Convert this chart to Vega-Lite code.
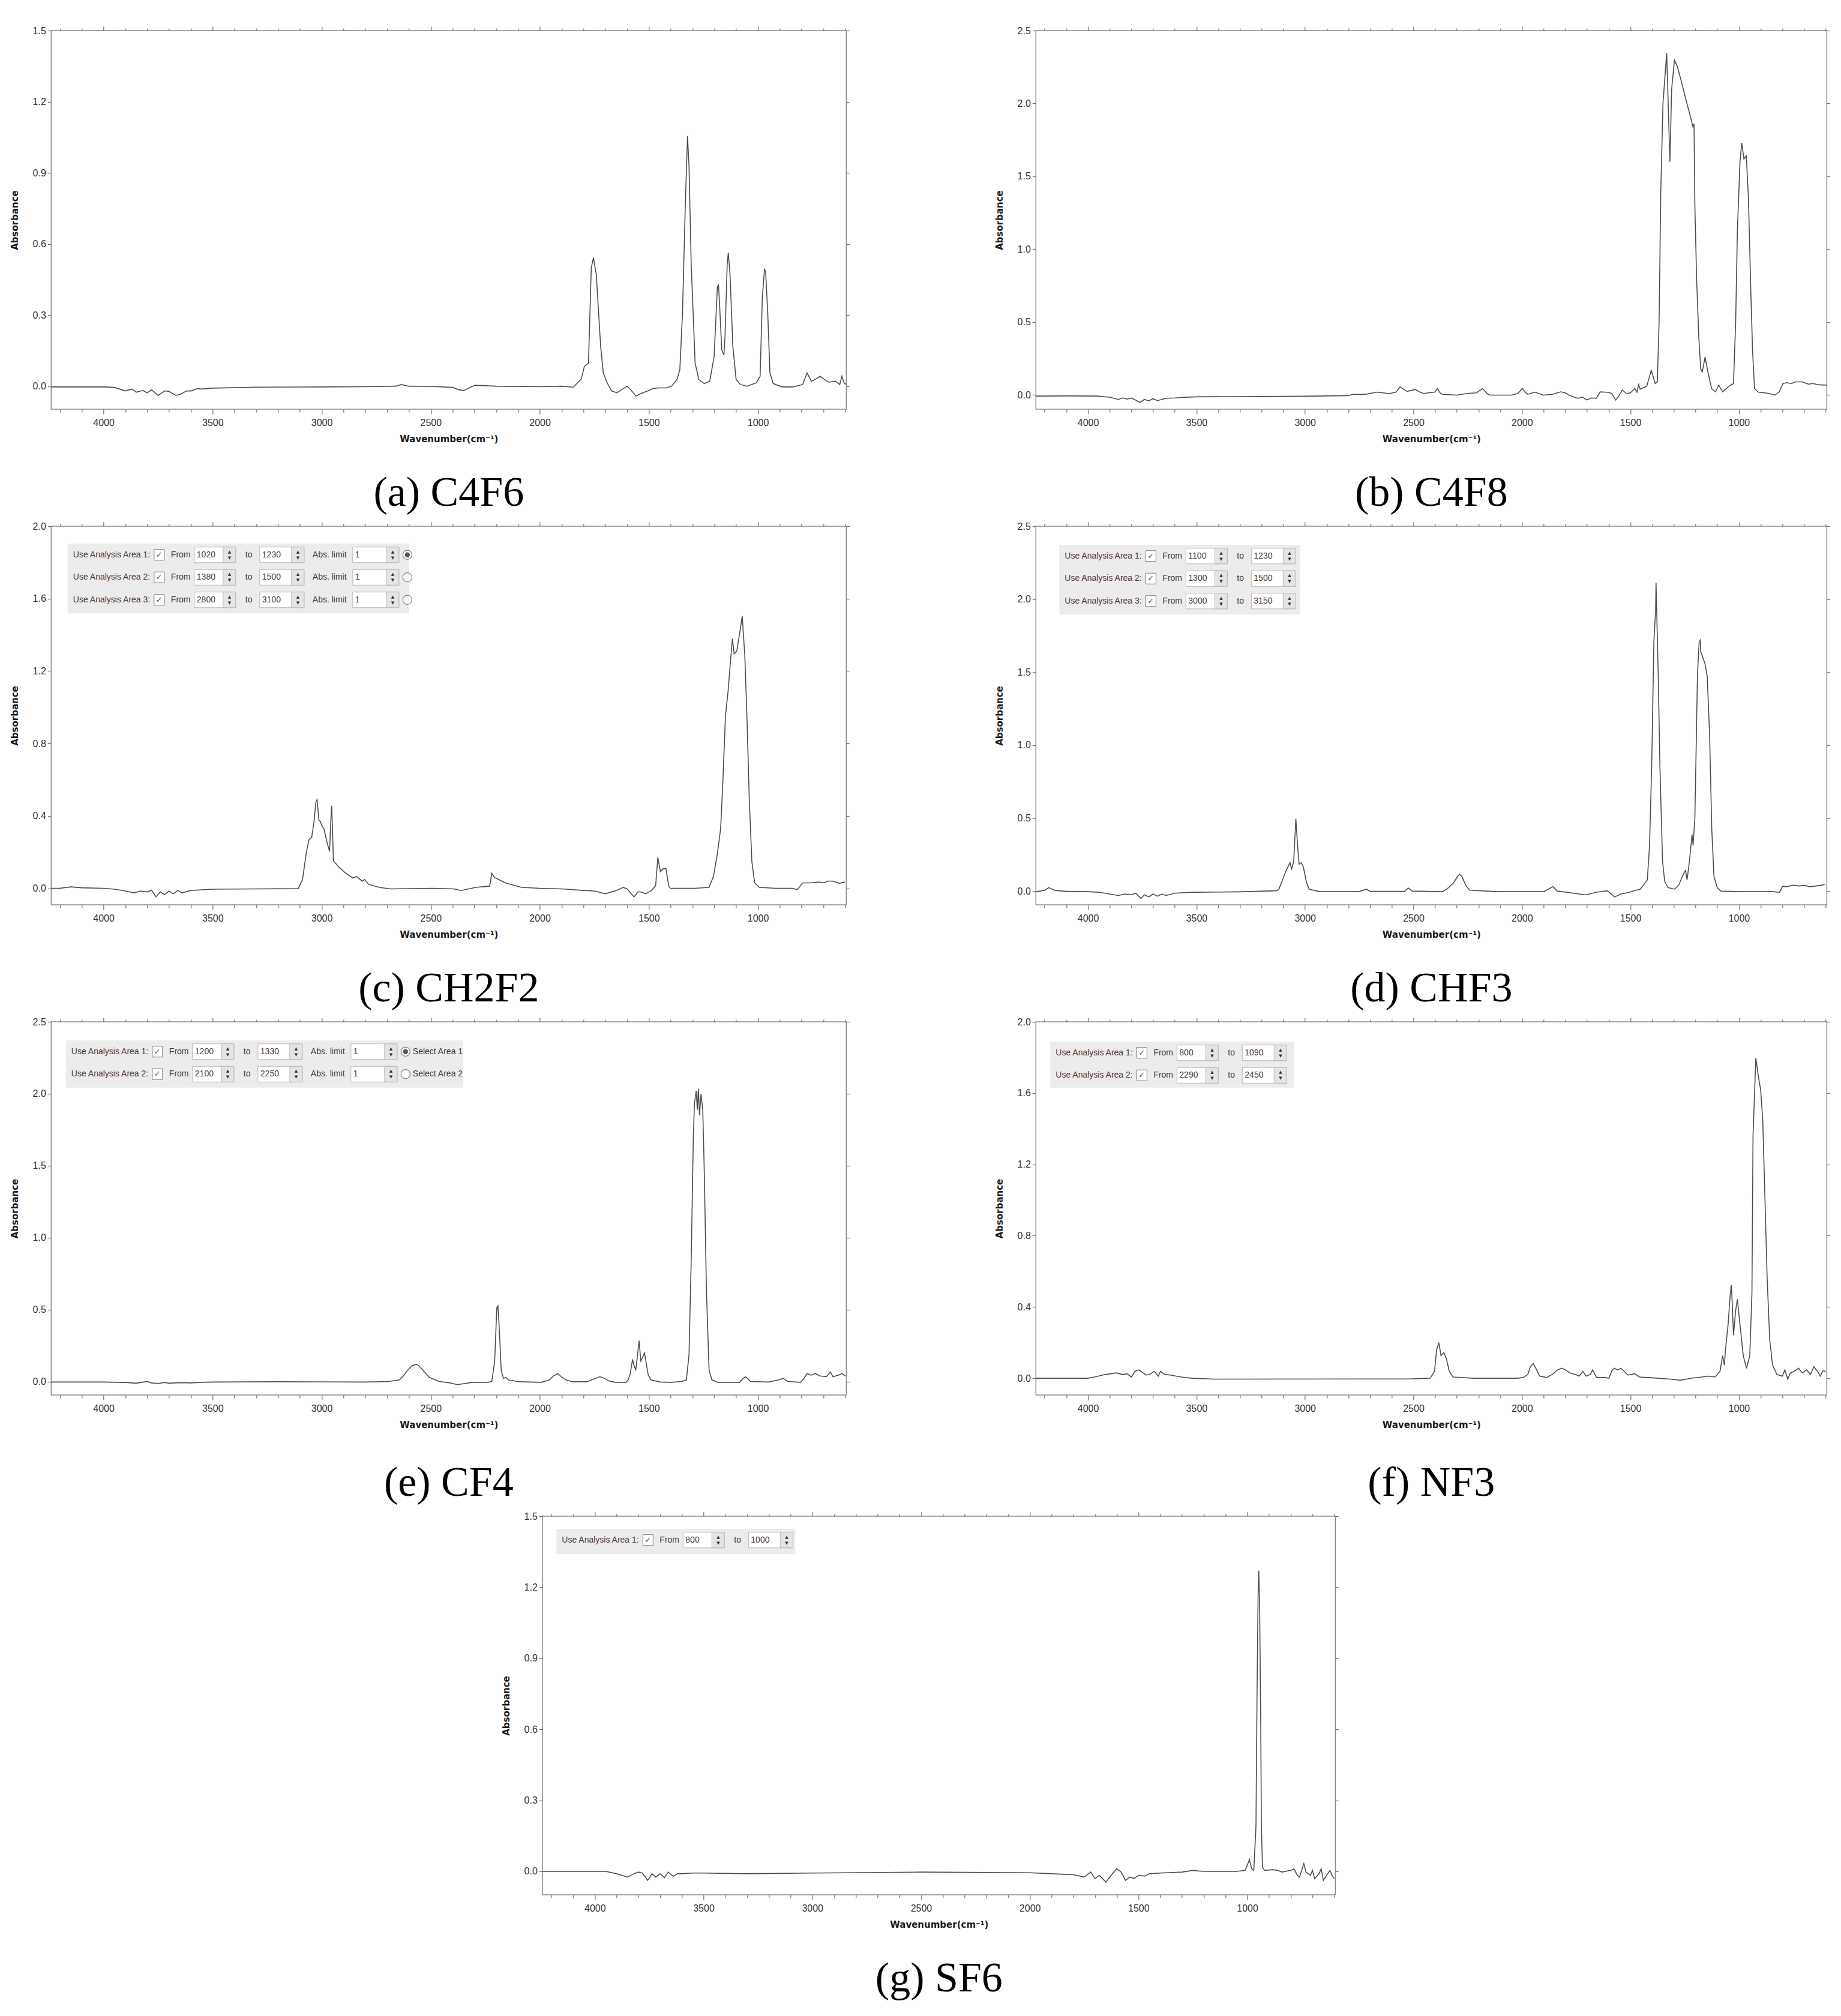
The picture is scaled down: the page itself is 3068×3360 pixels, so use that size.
{
"$schema": "https://vega.github.io/schema/vega-lite/v6.json",
"padding": {"left": 16, "top": 42, "right": 5, "bottom": 5},
"background": "white",
"datasets": {
"C4F6": [{"wn":4240,"abs":-0.003},{"wn":4100,"abs":-0.003},{"wn":4000,"abs":-0.003},{"wn":3950,"abs":-0.005},{"wn":3900,"abs":-0.02},{"wn":3870,"abs":-0.012},{"wn":3850,"abs":-0.025},{"wn":3820,"abs":-0.018},{"wn":3800,"abs":-0.028},{"wn":3780,"abs":-0.015},{"wn":3750,"abs":-0.039},{"wn":3720,"abs":-0.02},{"wn":3700,"abs":-0.022},{"wn":3670,"abs":-0.038},{"wn":3649,"abs":-0.035},{"wn":3620,"abs":-0.02},{"wn":3599,"abs":-0.02},{"wn":3570,"abs":-0.01},{"wn":3550,"abs":-0.012},{"wn":3499,"abs":-0.008},{"wn":3300,"abs":-0.004},{"wn":3000,"abs":-0.003},{"wn":2800,"abs":-0.002},{"wn":2660,"abs":0.0},{"wn":2635,"abs":0.007},{"wn":2600,"abs":0.0},{"wn":2500,"abs":-0.001},{"wn":2400,"abs":-0.005},{"wn":2372,"abs":-0.015},{"wn":2347,"abs":-0.018},{"wn":2320,"abs":-0.005},{"wn":2297,"abs":0.004},{"wn":2200,"abs":0.0},{"wn":2000,"abs":-0.002},{"wn":1900,"abs":0.0},{"wn":1847,"abs":-0.004},{"wn":1810,"abs":0.03},{"wn":1796,"abs":0.083},{"wn":1777,"abs":0.097},{"wn":1764,"abs":0.5},{"wn":1754,"abs":0.542},{"wn":1741,"abs":0.47},{"wn":1721,"abs":0.167},{"wn":1709,"abs":0.056},{"wn":1691,"abs":0.014},{"wn":1671,"abs":-0.02},{"wn":1646,"abs":-0.028},{"wn":1620,"abs":-0.012},{"wn":1601,"abs":0.0},{"wn":1584,"abs":-0.014},{"wn":1559,"abs":-0.042},{"wn":1546,"abs":-0.035},{"wn":1520,"abs":-0.025},{"wn":1504,"abs":-0.02},{"wn":1484,"abs":-0.011},{"wn":1458,"abs":-0.007},{"wn":1421,"abs":-0.007},{"wn":1396,"abs":0.0},{"wn":1371,"abs":0.028},{"wn":1358,"abs":0.07},{"wn":1346,"abs":0.306},{"wn":1333,"abs":0.764},{"wn":1323,"abs":1.056},{"wn":1316,"abs":0.93},{"wn":1306,"abs":0.514},{"wn":1288,"abs":0.097},{"wn":1271,"abs":0.028},{"wn":1246,"abs":0.011},{"wn":1221,"abs":0.021},{"wn":1201,"abs":0.125},{"wn":1186,"abs":0.417},{"wn":1181,"abs":0.43},{"wn":1176,"abs":0.347},{"wn":1166,"abs":0.153},{"wn":1156,"abs":0.132},{"wn":1151,"abs":0.208},{"wn":1141,"abs":0.514},{"wn":1136,"abs":0.5625},{"wn":1128,"abs":0.472},{"wn":1115,"abs":0.167},{"wn":1100,"abs":0.028},{"wn":1080,"abs":0.007},{"wn":1050,"abs":0.0},{"wn":1008,"abs":0.014},{"wn":990,"abs":0.042},{"wn":980,"abs":0.375},{"wn":970,"abs":0.493},{"wn":965,"abs":0.486},{"wn":955,"abs":0.306},{"wn":945,"abs":0.056},{"wn":930,"abs":0.011},{"wn":890,"abs":-0.003},{"wn":840,"abs":-0.003},{"wn":795,"abs":0.007},{"wn":775,"abs":0.056},{"wn":755,"abs":0.021},{"wn":735,"abs":0.03},{"wn":715,"abs":0.042},{"wn":695,"abs":0.028},{"wn":675,"abs":0.017},{"wn":645,"abs":0.021},{"wn":625,"abs":0.007},{"wn":615,"abs":0.042},{"wn":605,"abs":0.014},{"wn":595,"abs":0.007}],
"C4F8": [{"wn":4240,"abs":-0.007},{"wn":4100,"abs":-0.006},{"wn":3960,"abs":-0.007},{"wn":3900,"abs":-0.015},{"wn":3860,"abs":-0.03},{"wn":3840,"abs":-0.02},{"wn":3820,"abs":-0.028},{"wn":3800,"abs":-0.02},{"wn":3760,"abs":-0.05},{"wn":3740,"abs":-0.03},{"wn":3720,"abs":-0.04},{"wn":3700,"abs":-0.025},{"wn":3680,"abs":-0.038},{"wn":3660,"abs":-0.03},{"wn":3640,"abs":-0.022},{"wn":3600,"abs":-0.02},{"wn":3550,"abs":-0.015},{"wn":3500,"abs":-0.012},{"wn":3200,"abs":-0.01},{"wn":3000,"abs":-0.008},{"wn":2800,"abs":-0.004},{"wn":2781,"abs":0.005},{"wn":2720,"abs":0.005},{"wn":2668,"abs":0.02},{"wn":2640,"abs":0.015},{"wn":2612,"abs":0.01},{"wn":2580,"abs":0.02},{"wn":2562,"abs":0.056},{"wn":2540,"abs":0.035},{"wn":2529,"abs":0.025},{"wn":2491,"abs":0.038},{"wn":2470,"abs":0.02},{"wn":2453,"abs":0.011},{"wn":2402,"abs":0.02},{"wn":2390,"abs":0.045},{"wn":2375,"abs":0.01},{"wn":2364,"abs":0.005},{"wn":2301,"abs":0.0},{"wn":2251,"abs":0.011},{"wn":2210,"abs":0.015},{"wn":2182,"abs":0.045},{"wn":2160,"abs":0.01},{"wn":2149,"abs":0.0},{"wn":2048,"abs":0.0},{"wn":2020,"abs":0.01},{"wn":1998,"abs":0.045},{"wn":1985,"abs":0.02},{"wn":1973,"abs":0.005},{"wn":1940,"abs":0.02},{"wn":1902,"abs":0.0},{"wn":1860,"abs":0.005},{"wn":1821,"abs":0.022},{"wn":1800,"abs":0.015},{"wn":1783,"abs":0.0},{"wn":1745,"abs":-0.022},{"wn":1720,"abs":-0.015},{"wn":1702,"abs":-0.034},{"wn":1680,"abs":-0.02},{"wn":1657,"abs":-0.022},{"wn":1639,"abs":0.022},{"wn":1620,"abs":0.02},{"wn":1601,"abs":0.018},{"wn":1585,"abs":0.01},{"wn":1568,"abs":-0.034},{"wn":1555,"abs":-0.01},{"wn":1538,"abs":0.034},{"wn":1518,"abs":0.011},{"wn":1500,"abs":0.015},{"wn":1480,"abs":0.045},{"wn":1470,"abs":0.02},{"wn":1462,"abs":0.072},{"wn":1455,"abs":0.04},{"wn":1440,"abs":0.05},{"wn":1425,"abs":0.06},{"wn":1404,"abs":0.169},{"wn":1394,"abs":0.12},{"wn":1386,"abs":0.079},{"wn":1376,"abs":0.09},{"wn":1368,"abs":0.5},{"wn":1360,"abs":1.4},{"wn":1350,"abs":2.0},{"wn":1340,"abs":2.2},{"wn":1333,"abs":2.347},{"wn":1326,"abs":2.0},{"wn":1318,"abs":1.6},{"wn":1310,"abs":2.1},{"wn":1297,"abs":2.297},{"wn":1285,"abs":2.26},{"wn":1265,"abs":2.15},{"wn":1245,"abs":2.03},{"wn":1225,"abs":1.92},{"wn":1212,"abs":1.84},{"wn":1207,"abs":1.86},{"wn":1203,"abs":1.3},{"wn":1195,"abs":0.8},{"wn":1185,"abs":0.4},{"wn":1176,"abs":0.18},{"wn":1169,"abs":0.158},{"wn":1156,"abs":0.26},{"wn":1143,"abs":0.158},{"wn":1126,"abs":0.045},{"wn":1108,"abs":0.022},{"wn":1093,"abs":0.068},{"wn":1075,"abs":0.022},{"wn":1050,"abs":0.056},{"wn":1025,"abs":0.079},{"wn":1015,"abs":0.5},{"wn":1007,"abs":1.13},{"wn":995,"abs":1.6},{"wn":987,"abs":1.73},{"wn":977,"abs":1.62},{"wn":966,"abs":1.64},{"wn":956,"abs":1.35},{"wn":945,"abs":0.7},{"wn":937,"abs":0.3},{"wn":928,"abs":0.045},{"wn":911,"abs":0.02},{"wn":860,"abs":0.011},{"wn":835,"abs":0.0},{"wn":815,"abs":0.02},{"wn":797,"abs":0.079},{"wn":780,"abs":0.085},{"wn":759,"abs":0.079},{"wn":740,"abs":0.09},{"wn":709,"abs":0.09},{"wn":680,"abs":0.075},{"wn":658,"abs":0.079},{"wn":630,"abs":0.07},{"wn":595,"abs":0.068}],
"CH2F2": [{"wn":4240,"abs":0.0},{"wn":4200,"abs":0.0},{"wn":4150,"abs":0.008},{"wn":4100,"abs":0.003},{"wn":4000,"abs":0.0},{"wn":3950,"abs":-0.005},{"wn":3900,"abs":-0.015},{"wn":3860,"abs":-0.025},{"wn":3830,"abs":-0.015},{"wn":3800,"abs":-0.02},{"wn":3780,"abs":-0.01},{"wn":3760,"abs":-0.047},{"wn":3740,"abs":-0.02},{"wn":3720,"abs":-0.035},{"wn":3700,"abs":-0.015},{"wn":3680,"abs":-0.03},{"wn":3660,"abs":-0.012},{"wn":3640,"abs":-0.025},{"wn":3600,"abs":-0.012},{"wn":3550,"abs":-0.008},{"wn":3500,"abs":-0.005},{"wn":3300,"abs":-0.003},{"wn":3108,"abs":-0.002},{"wn":3088,"abs":0.048},{"wn":3070,"abs":0.2},{"wn":3058,"abs":0.27},{"wn":3046,"abs":0.28},{"wn":3036,"abs":0.36},{"wn":3026,"abs":0.48},{"wn":3021,"abs":0.49},{"wn":3013,"abs":0.378},{"wn":3006,"abs":0.369},{"wn":3001,"abs":0.35},{"wn":2989,"abs":0.326},{"wn":2976,"abs":0.256},{"wn":2964,"abs":0.204},{"wn":2956,"abs":0.43},{"wn":2954,"abs":0.455},{"wn":2946,"abs":0.152},{"wn":2934,"abs":0.135},{"wn":2922,"abs":0.118},{"wn":2889,"abs":0.083},{"wn":2857,"abs":0.057},{"wn":2840,"abs":0.065},{"wn":2815,"abs":0.04},{"wn":2803,"abs":0.048},{"wn":2785,"abs":0.022},{"wn":2736,"abs":0.005},{"wn":2684,"abs":-0.003},{"wn":2493,"abs":0.0},{"wn":2394,"abs":-0.003},{"wn":2361,"abs":-0.012},{"wn":2294,"abs":0.005},{"wn":2230,"abs":0.012},{"wn":2220,"abs":0.083},{"wn":2208,"abs":0.06},{"wn":2188,"abs":0.048},{"wn":2158,"abs":0.03},{"wn":2084,"abs":0.005},{"wn":2000,"abs":0.0},{"wn":1898,"abs":-0.003},{"wn":1799,"abs":-0.012},{"wn":1750,"abs":-0.015},{"wn":1700,"abs":-0.03},{"wn":1650,"abs":-0.012},{"wn":1618,"abs":0.005},{"wn":1600,"abs":-0.003},{"wn":1568,"abs":-0.047},{"wn":1550,"abs":-0.02},{"wn":1538,"abs":-0.02},{"wn":1514,"abs":-0.03},{"wn":1489,"abs":-0.012},{"wn":1469,"abs":0.014},{"wn":1459,"abs":0.17},{"wn":1447,"abs":0.092},{"wn":1434,"abs":0.109},{"wn":1422,"abs":0.109},{"wn":1409,"abs":0.014},{"wn":1402,"abs":0.0},{"wn":1290,"abs":0.0},{"wn":1224,"abs":0.005},{"wn":1204,"abs":0.066},{"wn":1186,"abs":0.19},{"wn":1171,"abs":0.33},{"wn":1161,"abs":0.585},{"wn":1149,"abs":0.95},{"wn":1137,"abs":1.087},{"wn":1127,"abs":1.24},{"wn":1117,"abs":1.378},{"wn":1109,"abs":1.295},{"wn":1097,"abs":1.31},{"wn":1085,"abs":1.4},{"wn":1072,"abs":1.503},{"wn":1060,"abs":1.28},{"wn":1050,"abs":0.93},{"wn":1040,"abs":0.5},{"wn":1028,"abs":0.15},{"wn":1015,"abs":0.03},{"wn":993,"abs":0.005},{"wn":919,"abs":0.0},{"wn":844,"abs":0.0},{"wn":819,"abs":-0.007},{"wn":795,"abs":0.03},{"wn":760,"abs":0.03},{"wn":720,"abs":0.035},{"wn":696,"abs":0.03},{"wn":680,"abs":0.04},{"wn":658,"abs":0.04},{"wn":626,"abs":0.028},{"wn":601,"abs":0.035}],
"CHF3": [{"wn":4240,"abs":-0.004},{"wn":4200,"abs":0.005},{"wn":4181,"abs":0.024},{"wn":4151,"abs":0.004},{"wn":4100,"abs":-0.002},{"wn":4000,"abs":-0.004},{"wn":3950,"abs":-0.008},{"wn":3900,"abs":-0.02},{"wn":3860,"abs":-0.03},{"wn":3830,"abs":-0.02},{"wn":3800,"abs":-0.025},{"wn":3780,"abs":-0.015},{"wn":3756,"abs":-0.05},{"wn":3740,"abs":-0.025},{"wn":3720,"abs":-0.04},{"wn":3700,"abs":-0.02},{"wn":3680,"abs":-0.035},{"wn":3660,"abs":-0.02},{"wn":3640,"abs":-0.03},{"wn":3600,"abs":-0.015},{"wn":3550,"abs":-0.01},{"wn":3500,"abs":-0.008},{"wn":3300,"abs":-0.005},{"wn":3132,"abs":0.002},{"wn":3120,"abs":0.013},{"wn":3087,"abs":0.14},{"wn":3069,"abs":0.195},{"wn":3062,"abs":0.152},{"wn":3052,"abs":0.2},{"wn":3042,"abs":0.495},{"wn":3034,"abs":0.313},{"wn":3027,"abs":0.184},{"wn":3017,"abs":0.195},{"wn":3007,"abs":0.163},{"wn":2994,"abs":0.066},{"wn":2981,"abs":0.013},{"wn":2931,"abs":-0.004},{"wn":2750,"abs":-0.004},{"wn":2717,"abs":0.013},{"wn":2700,"abs":-0.002},{"wn":2540,"abs":-0.002},{"wn":2524,"abs":0.021},{"wn":2505,"abs":0.0},{"wn":2365,"abs":-0.004},{"wn":2338,"abs":0.024},{"wn":2315,"abs":0.056},{"wn":2297,"abs":0.1},{"wn":2287,"abs":0.116},{"wn":2277,"abs":0.1},{"wn":2257,"abs":0.034},{"wn":2240,"abs":0.006},{"wn":2106,"abs":-0.004},{"wn":1900,"abs":-0.004},{"wn":1857,"abs":0.03},{"wn":1837,"abs":0.0},{"wn":1760,"abs":-0.015},{"wn":1706,"abs":-0.026},{"wn":1656,"abs":-0.008},{"wn":1606,"abs":0.002},{"wn":1573,"abs":-0.04},{"wn":1543,"abs":-0.02},{"wn":1503,"abs":-0.008},{"wn":1485,"abs":0.002},{"wn":1455,"abs":0.013},{"wn":1422,"abs":0.077},{"wn":1412,"abs":0.313},{"wn":1402,"abs":0.85},{"wn":1392,"abs":1.707},{"wn":1384,"abs":1.92},{"wn":1382,"abs":2.114},{"wn":1379,"abs":1.92},{"wn":1372,"abs":1.49},{"wn":1364,"abs":0.85},{"wn":1352,"abs":0.206},{"wn":1342,"abs":0.066},{"wn":1327,"abs":0.024},{"wn":1296,"abs":0.013},{"wn":1276,"abs":0.045},{"wn":1261,"abs":0.1},{"wn":1251,"abs":0.13},{"wn":1246,"abs":0.141},{"wn":1239,"abs":0.077},{"wn":1228,"abs":0.206},{"wn":1216,"abs":0.388},{"wn":1211,"abs":0.313},{"wn":1203,"abs":0.506},{"wn":1196,"abs":1.063},{"wn":1191,"abs":1.49},{"wn":1183,"abs":1.707},{"wn":1178,"abs":1.72},{"wn":1176,"abs":1.64},{"wn":1171,"abs":1.62},{"wn":1161,"abs":1.578},{"wn":1156,"abs":1.556},{"wn":1146,"abs":1.47},{"wn":1135,"abs":1.063},{"wn":1125,"abs":0.42},{"wn":1115,"abs":0.1},{"wn":1100,"abs":0.024},{"wn":1083,"abs":0.0},{"wn":1000,"abs":-0.004},{"wn":844,"abs":-0.004},{"wn":813,"abs":-0.008},{"wn":798,"abs":0.034},{"wn":781,"abs":0.03},{"wn":750,"abs":0.04},{"wn":720,"abs":0.035},{"wn":700,"abs":0.04},{"wn":675,"abs":0.03},{"wn":650,"abs":0.034},{"wn":620,"abs":0.04},{"wn":605,"abs":0.045}],
"CF4": [{"wn":4240,"abs":-0.002},{"wn":4000,"abs":-0.002},{"wn":3900,"abs":-0.005},{"wn":3850,"abs":-0.01},{"wn":3800,"abs":0.002},{"wn":3780,"abs":-0.008},{"wn":3750,"abs":-0.012},{"wn":3720,"abs":-0.005},{"wn":3700,"abs":-0.01},{"wn":3650,"abs":-0.006},{"wn":3600,"abs":-0.008},{"wn":3550,"abs":-0.004},{"wn":3500,"abs":-0.002},{"wn":3200,"abs":0.0},{"wn":2800,"abs":-0.002},{"wn":2693,"abs":0.002},{"wn":2643,"abs":0.013},{"wn":2623,"abs":0.046},{"wn":2606,"abs":0.08},{"wn":2586,"abs":0.11},{"wn":2566,"abs":0.122},{"wn":2553,"abs":0.11},{"wn":2536,"abs":0.08},{"wn":2506,"abs":0.03},{"wn":2461,"abs":0.002},{"wn":2411,"abs":-0.008},{"wn":2379,"abs":-0.02},{"wn":2307,"abs":-0.004},{"wn":2237,"abs":-0.004},{"wn":2220,"abs":0.002},{"wn":2207,"abs":0.144},{"wn":2197,"abs":0.516},{"wn":2192,"abs":0.527},{"wn":2187,"abs":0.406},{"wn":2177,"abs":0.08},{"wn":2167,"abs":0.024},{"wn":2155,"abs":0.03},{"wn":2145,"abs":0.013},{"wn":2093,"abs":0.0},{"wn":1993,"abs":-0.004},{"wn":1956,"abs":0.013},{"wn":1938,"abs":0.04},{"wn":1918,"abs":0.057},{"wn":1901,"abs":0.035},{"wn":1881,"abs":0.013},{"wn":1851,"abs":0.0},{"wn":1784,"abs":0.0},{"wn":1744,"abs":0.024},{"wn":1724,"abs":0.035},{"wn":1704,"abs":0.024},{"wn":1684,"abs":0.006},{"wn":1654,"abs":-0.004},{"wn":1605,"abs":-0.004},{"wn":1595,"abs":0.013},{"wn":1585,"abs":0.057},{"wn":1575,"abs":0.155},{"wn":1570,"abs":0.122},{"wn":1560,"abs":0.08},{"wn":1552,"abs":0.188},{"wn":1545,"abs":0.286},{"wn":1537,"abs":0.144},{"wn":1530,"abs":0.166},{"wn":1520,"abs":0.2},{"wn":1510,"abs":0.11},{"wn":1503,"abs":0.046},{"wn":1490,"abs":0.013},{"wn":1448,"abs":-0.002},{"wn":1398,"abs":-0.004},{"wn":1348,"abs":0.002},{"wn":1328,"abs":0.013},{"wn":1316,"abs":0.188},{"wn":1306,"abs":0.843},{"wn":1296,"abs":1.717},{"wn":1291,"abs":1.936},{"wn":1283,"abs":2.02},{"wn":1278,"abs":1.89},{"wn":1273,"abs":2.035},{"wn":1268,"abs":1.85},{"wn":1261,"abs":2.0},{"wn":1253,"abs":1.89},{"wn":1246,"abs":1.455},{"wn":1236,"abs":0.625},{"wn":1224,"abs":0.08},{"wn":1211,"abs":0.013},{"wn":1184,"abs":-0.004},{"wn":1084,"abs":-0.004},{"wn":1067,"abs":0.024},{"wn":1057,"abs":0.035},{"wn":1034,"abs":0.002},{"wn":950,"abs":-0.002},{"wn":905,"abs":0.013},{"wn":885,"abs":0.024},{"wn":863,"abs":0.002},{"wn":805,"abs":-0.004},{"wn":788,"abs":0.024},{"wn":775,"abs":0.057},{"wn":756,"abs":0.046},{"wn":736,"abs":0.057},{"wn":716,"abs":0.04},{"wn":686,"abs":0.035},{"wn":668,"abs":0.068},{"wn":656,"abs":0.035},{"wn":631,"abs":0.046},{"wn":614,"abs":0.057},{"wn":599,"abs":0.04}],
"NF3": [{"wn":4240,"abs":0.0},{"wn":4000,"abs":0.0},{"wn":3970,"abs":0.007},{"wn":3920,"abs":0.021},{"wn":3870,"abs":0.03},{"wn":3840,"abs":0.021},{"wn":3820,"abs":0.025},{"wn":3800,"abs":0.007},{"wn":3783,"abs":0.039},{"wn":3765,"abs":0.047},{"wn":3733,"abs":0.018},{"wn":3715,"abs":0.021},{"wn":3695,"abs":0.039},{"wn":3676,"abs":0.012},{"wn":3666,"abs":0.039},{"wn":3646,"abs":0.021},{"wn":3621,"abs":0.018},{"wn":3571,"abs":0.007},{"wn":3521,"abs":0.0},{"wn":3421,"abs":-0.005},{"wn":2722,"abs":-0.004},{"wn":2522,"abs":-0.004},{"wn":2423,"abs":0.0},{"wn":2403,"abs":0.039},{"wn":2393,"abs":0.162},{"wn":2383,"abs":0.2},{"wn":2373,"abs":0.127},{"wn":2360,"abs":0.144},{"wn":2348,"abs":0.109},{"wn":2335,"abs":0.039},{"wn":2318,"abs":0.007},{"wn":2223,"abs":0.0},{"wn":2023,"abs":0.0},{"wn":1993,"abs":0.004},{"wn":1973,"abs":0.021},{"wn":1961,"abs":0.065},{"wn":1948,"abs":0.083},{"wn":1936,"abs":0.056},{"wn":1918,"abs":0.012},{"wn":1886,"abs":0.004},{"wn":1856,"abs":0.025},{"wn":1836,"abs":0.047},{"wn":1816,"abs":0.056},{"wn":1799,"abs":0.047},{"wn":1779,"abs":0.03},{"wn":1754,"abs":0.021},{"wn":1736,"abs":0.012},{"wn":1719,"abs":0.039},{"wn":1704,"abs":0.012},{"wn":1686,"abs":0.021},{"wn":1674,"abs":0.047},{"wn":1656,"abs":0.004},{"wn":1619,"abs":0.004},{"wn":1599,"abs":0.0},{"wn":1584,"abs":0.047},{"wn":1574,"abs":0.056},{"wn":1559,"abs":0.047},{"wn":1544,"abs":0.056},{"wn":1529,"abs":0.039},{"wn":1512,"abs":0.018},{"wn":1479,"abs":0.025},{"wn":1459,"abs":0.007},{"wn":1419,"abs":0.004},{"wn":1369,"abs":0.0},{"wn":1319,"abs":-0.005},{"wn":1269,"abs":-0.011},{"wn":1219,"abs":0.0},{"wn":1170,"abs":0.007},{"wn":1140,"abs":0.012},{"wn":1110,"abs":0.007},{"wn":1087,"abs":0.039},{"wn":1075,"abs":0.127},{"wn":1067,"abs":0.074},{"wn":1062,"abs":0.162},{"wn":1050,"abs":0.3},{"wn":1040,"abs":0.47},{"wn":1035,"abs":0.522},{"wn":1030,"abs":0.4},{"wn":1025,"abs":0.241},{"wn":1015,"abs":0.38},{"wn":1007,"abs":0.443},{"wn":995,"abs":0.3},{"wn":980,"abs":0.127},{"wn":965,"abs":0.056},{"wn":950,"abs":0.127},{"wn":940,"abs":0.478},{"wn":935,"abs":1.358},{"wn":922,"abs":1.798},{"wn":910,"abs":1.69},{"wn":900,"abs":1.62},{"wn":890,"abs":1.446},{"wn":880,"abs":1.006},{"wn":870,"abs":0.566},{"wn":858,"abs":0.215},{"wn":845,"abs":0.074},{"wn":825,"abs":0.021},{"wn":800,"abs":0.012},{"wn":788,"abs":0.047},{"wn":775,"abs":-0.005},{"wn":763,"abs":0.03},{"wn":745,"abs":0.039},{"wn":725,"abs":0.056},{"wn":708,"abs":0.03},{"wn":688,"abs":0.047},{"wn":670,"abs":0.021},{"wn":655,"abs":0.065},{"wn":638,"abs":0.039},{"wn":625,"abs":0.012},{"wn":613,"abs":0.042},{"wn":600,"abs":0.039}],
"SF6": [{"wn":4240,"abs":0.0},{"wn":4100,"abs":0.0},{"wn":3950,"abs":0.0},{"wn":3900,"abs":-0.01},{"wn":3850,"abs":-0.024},{"wn":3820,"abs":-0.01},{"wn":3800,"abs":-0.003},{"wn":3782,"abs":-0.007},{"wn":3757,"abs":-0.038},{"wn":3737,"abs":-0.01},{"wn":3720,"abs":-0.024},{"wn":3700,"abs":-0.01},{"wn":3680,"abs":-0.027},{"wn":3662,"abs":-0.003},{"wn":3640,"abs":-0.021},{"wn":3620,"abs":-0.01},{"wn":3600,"abs":-0.01},{"wn":3550,"abs":-0.007},{"wn":3500,"abs":-0.007},{"wn":3300,"abs":-0.01},{"wn":3000,"abs":-0.007},{"wn":2500,"abs":-0.003},{"wn":2000,"abs":-0.006},{"wn":1900,"abs":-0.01},{"wn":1800,"abs":-0.014},{"wn":1750,"abs":-0.024},{"wn":1720,"abs":-0.003},{"wn":1700,"abs":-0.031},{"wn":1680,"abs":-0.017},{"wn":1650,"abs":-0.045},{"wn":1620,"abs":-0.01},{"wn":1600,"abs":0.011},{"wn":1580,"abs":-0.003},{"wn":1560,"abs":-0.038},{"wn":1540,"abs":-0.024},{"wn":1520,"abs":-0.03},{"wn":1500,"abs":-0.017},{"wn":1470,"abs":-0.02},{"wn":1450,"abs":-0.01},{"wn":1400,"abs":-0.007},{"wn":1300,"abs":-0.003},{"wn":1250,"abs":0.004},{"wn":1200,"abs":0.0},{"wn":1050,"abs":0.0},{"wn":1010,"abs":0.004},{"wn":1000,"abs":0.026},{"wn":990,"abs":0.05},{"wn":980,"abs":0.011},{"wn":970,"abs":0.004},{"wn":960,"abs":0.189},{"wn":955,"abs":0.758},{"wn":950,"abs":1.18},{"wn":947,"abs":1.27},{"wn":943,"abs":1.11},{"wn":938,"abs":0.616},{"wn":935,"abs":0.189},{"wn":930,"abs":0.018},{"wn":920,"abs":0.004},{"wn":880,"abs":0.007},{"wn":860,"abs":0.004},{"wn":840,"abs":-0.003},{"wn":800,"abs":0.004},{"wn":785,"abs":0.011},{"wn":770,"abs":-0.017},{"wn":760,"abs":-0.024},{"wn":740,"abs":0.033},{"wn":730,"abs":-0.003},{"wn":710,"abs":-0.017},{"wn":700,"abs":0.004},{"wn":690,"abs":-0.031},{"wn":670,"abs":-0.01},{"wn":660,"abs":0.011},{"wn":650,"abs":-0.038},{"wn":640,"abs":-0.024},{"wn":620,"abs":0.004},{"wn":610,"abs":-0.017},{"wn":600,"abs":-0.031}],
"ui": [
{"p":"c","r":1,"lab":"Use Analysis Area 1:","f":"1020","t":"1230","lim":"1","sel":true},
{"p":"c","r":2,"lab":"Use Analysis Area 2:","f":"1380","t":"1500","lim":"1","sel":false},
{"p":"c","r":3,"lab":"Use Analysis Area 3:","f":"2800","t":"3100","lim":"1","sel":false},
{"p":"d","r":1,"lab":"Use Analysis Area 1:","f":"1100","t":"1230"},
{"p":"d","r":2,"lab":"Use Analysis Area 2:","f":"1300","t":"1500"},
{"p":"d","r":3,"lab":"Use Analysis Area 3:","f":"3000","t":"3150"},
{"p":"e","r":1,"lab":"Use Analysis Area 1:","f":"1200","t":"1330","lim":"1","sel":true,"sa":"Select Area 1"},
{"p":"e","r":2,"lab":"Use Analysis Area 2:","f":"2100","t":"2250","lim":"1","sel":false,"sa":"Select Area 2"},
{"p":"f","r":1,"lab":"Use Analysis Area 1:","f":"800","t":"1090"},
{"p":"f","r":2,"lab":"Use Analysis Area 2:","f":"2290","t":"2450"},
{"p":"g","r":1,"lab":"Use Analysis Area 1:","f":"800","t":"1000"}
]
},
"vconcat": [
{"hconcat": [
{"title": {"text": "(a) C4F6", "orient": "bottom"}, "width": 1325, "height": 631,
 "layer": [
  {"data": {"name": "C4F6"}, "mark": {"type": "line", "stroke": "#4d4d4d", "strokeWidth": 1.6},
   "encoding": {
    "x": {"field": "wn", "type": "quantitative", "scale": {"domain": [595, 4240], "reverse": true, "nice": false, "zero": false},
      "axis": {"title": "Wavenumber(cm⁻¹)", "values": [600,700,800,900,1000,1100,1200,1300,1400,1500,1600,1700,1800,1900,2000,2100,2200,2300,2400,2500,2600,2700,2800,2900,3000,3100,3200,3300,3400,3500,3600,3700,3800,3900,4000,4100,4200], "format": "d", "labelExpr": "datum.value % 500 === 0 ? datum.label : ''", "labelOverlap": false, "tickSize": {"condition": {"test": "datum.value % 500 === 0", "value": 8}, "value": 5}}},
    "y": {"field": "abs", "type": "quantitative", "scale": {"domain": [-0.097, 1.5], "nice": false, "zero": false},
      "axis": {"title": "Absorbance", "values": [0, 0.3, 0.6, 0.9, 1.2, 1.5], "format": ".1f", "tickSize": 6}}}},
  {"data": {"name": "C4F6"}, "mark": {"type": "line", "strokeOpacity": 0},
   "encoding": {
    "x": {"field": "wn", "type": "quantitative", "axis": {"orient": "top", "title": null, "labels": false, "values": [600,700,800,900,1000,1100,1200,1300,1400,1500,1600,1700,1800,1900,2000,2100,2200,2300,2400,2500,2600,2700,2800,2900,3000,3100,3200,3300,3400,3500,3600,3700,3800,3900,4000,4100,4200], "tickSize": {"condition": {"test": "datum.value % 500 === 0", "value": 7}, "value": 4}}},
    "y": {"field": "abs", "type": "quantitative", "axis": {"orient": "right", "title": null, "labels": false, "values": [0, 0.3, 0.6, 0.9, 1.2, 1.5], "tickSize": 5}}}}
 ],
 "resolve": {"axis": {"x": "independent", "y": "independent"}}},
{"title": {"text": "(b) C4F8", "orient": "bottom"}, "width": 1318, "height": 631,
 "layer": [
  {"data": {"name": "C4F8"}, "mark": {"type": "line", "stroke": "#4d4d4d", "strokeWidth": 1.6},
   "encoding": {
    "x": {"field": "wn", "type": "quantitative", "scale": {"domain": [595, 4240], "reverse": true, "nice": false, "zero": false},
      "axis": {"title": "Wavenumber(cm⁻¹)", "values": [600,700,800,900,1000,1100,1200,1300,1400,1500,1600,1700,1800,1900,2000,2100,2200,2300,2400,2500,2600,2700,2800,2900,3000,3100,3200,3300,3400,3500,3600,3700,3800,3900,4000,4100,4200], "format": "d", "labelExpr": "datum.value % 500 === 0 ? datum.label : ''", "labelOverlap": false, "tickSize": {"condition": {"test": "datum.value % 500 === 0", "value": 8}, "value": 5}}},
    "y": {"field": "abs", "type": "quantitative", "scale": {"domain": [-0.097, 2.5], "nice": false, "zero": false},
      "axis": {"title": "Absorbance", "values": [0, 0.5, 1, 1.5, 2, 2.5], "format": ".1f", "tickSize": 6}}}},
  {"data": {"name": "C4F8"}, "mark": {"type": "line", "strokeOpacity": 0},
   "encoding": {
    "x": {"field": "wn", "type": "quantitative", "axis": {"orient": "top", "title": null, "labels": false, "values": [600,700,800,900,1000,1100,1200,1300,1400,1500,1600,1700,1800,1900,2000,2100,2200,2300,2400,2500,2600,2700,2800,2900,3000,3100,3200,3300,3400,3500,3600,3700,3800,3900,4000,4100,4200], "tickSize": {"condition": {"test": "datum.value % 500 === 0", "value": 7}, "value": 4}}},
    "y": {"field": "abs", "type": "quantitative", "axis": {"orient": "right", "title": null, "labels": false, "values": [0, 0.5, 1, 1.5, 2, 2.5], "tickSize": 5}}}}
 ],
 "resolve": {"axis": {"x": "independent", "y": "independent"}}}
], "spacing": 240},
{"hconcat": [
{"title": {"text": "(c) CH2F2", "orient": "bottom"}, "width": 1325, "height": 631,
 "layer": [
  {"layer": [
   {"data": {"name": "CH2F2"}, "mark": {"type": "line", "stroke": "#4d4d4d", "strokeWidth": 1.6},
    "encoding": {
     "x": {"field": "wn", "type": "quantitative", "scale": {"domain": [595, 4240], "reverse": true, "nice": false, "zero": false},
       "axis": {"title": "Wavenumber(cm⁻¹)", "values": [600,700,800,900,1000,1100,1200,1300,1400,1500,1600,1700,1800,1900,2000,2100,2200,2300,2400,2500,2600,2700,2800,2900,3000,3100,3200,3300,3400,3500,3600,3700,3800,3900,4000,4100,4200], "format": "d", "labelExpr": "datum.value % 500 === 0 ? datum.label : ''", "labelOverlap": false, "tickSize": {"condition": {"test": "datum.value % 500 === 0", "value": 8}, "value": 5}}},
     "y": {"field": "abs", "type": "quantitative", "scale": {"domain": [-0.091, 2.0], "nice": false, "zero": false},
       "axis": {"title": "Absorbance", "values": [0, 0.4, 0.8, 1.2, 1.6, 2.0], "format": ".1f", "tickSize": 6}}}},
   {"data": {"name": "CH2F2"}, "mark": {"type": "line", "strokeOpacity": 0},
    "encoding": {
     "x": {"field": "wn", "type": "quantitative", "axis": {"orient": "top", "title": null, "labels": false, "values": [600,700,800,900,1000,1100,1200,1300,1400,1500,1600,1700,1800,1900,2000,2100,2200,2300,2400,2500,2600,2700,2800,2900,3000,3100,3200,3300,3400,3500,3600,3700,3800,3900,4000,4100,4200], "tickSize": {"condition": {"test": "datum.value % 500 === 0", "value": 7}, "value": 4}}},
     "y": {"field": "abs", "type": "quantitative", "axis": {"orient": "right", "title": null, "labels": false, "values": [0, 0.4, 0.8, 1.2, 1.6, 2.0], "tickSize": 5}}}}
  ], "resolve": {"axis": {"x": "independent", "y": "independent"}}},
  {"data": {"name": "ui"}, "transform": [{"filter": "datum.p === 'c'"}],
   "layer": [
    {"transform": [{"filter": "datum.r === 1"}], "mark": {"type": "rect", "fill": "#ececec"},
     "encoding": {"x": {"datum": 0, "type": "quantitative", "scale": {"domain": [-27.5, 1297.5], "nice": false, "zero": false}, "axis": null}, "x2": {"datum": 569},
      "y": {"datum": 0.5, "type": "quantitative", "scale": {"domain": [-0.273, 16.553], "reverse": true, "nice": false, "zero": false}, "axis": null}, "y2": {"datum": 3.6}}},
    {"mark": {"type": "text", "align": "left", "baseline": "middle", "font": "Liberation Sans", "fontSize": 14, "fill": "#4b3b3b"},
     "encoding": {"x": {"datum": 9, "type": "quantitative", "axis": null}, "y": {"field": "r", "type": "quantitative", "axis": null}, "text": {"field": "lab"}}},
    {"mark": {"type": "rect", "fill": "#ffffff", "stroke": "#7b7b7b", "strokeWidth": 1, "yOffset": -9, "y2Offset": 9},
     "encoding": {"x": {"datum": 144, "type": "quantitative", "axis": null}, "x2": {"datum": 161}, "y": {"field": "r", "type": "quantitative", "axis": null}, "y2": {"field": "r"}}},
    {"mark": {"type": "text", "text": "✓", "align": "center", "baseline": "middle", "font": "DejaVu Sans", "fontSize": 13, "fill": "#555555"},
     "encoding": {"x": {"datum": 152.5, "type": "quantitative", "axis": null}, "y": {"field": "r", "type": "quantitative", "axis": null}}},
    {"mark": {"type": "text", "text": "From", "align": "left", "baseline": "middle", "font": "Liberation Sans", "fontSize": 14, "fill": "#3a3a3a"},
     "encoding": {"x": {"datum": 172, "type": "quantitative", "axis": null}, "y": {"field": "r", "type": "quantitative", "axis": null}}},
    {"mark": {"type": "rect", "fill": "#ffffff", "stroke": "#b9b9b9", "strokeWidth": 1, "yOffset": -13, "y2Offset": 13},
     "encoding": {"x": {"datum": 211, "type": "quantitative", "axis": null}, "x2": {"datum": 280}, "y": {"field": "r", "type": "quantitative", "axis": null}, "y2": {"field": "r"}}},
    {"mark": {"type": "rect", "fill": "#e4e4e4", "stroke": "#b9b9b9", "strokeWidth": 1, "yOffset": -13, "y2Offset": 13},
     "encoding": {"x": {"datum": 259, "type": "quantitative", "axis": null}, "x2": {"datum": 280}, "y": {"field": "r", "type": "quantitative", "axis": null}, "y2": {"field": "r"}}},
    {"mark": {"type": "text", "text": "▲", "align": "center", "baseline": "middle", "font": "DejaVu Sans", "fontSize": 7, "fill": "#333333", "yOffset": -5},
     "encoding": {"x": {"datum": 269.5, "type": "quantitative", "axis": null}, "y": {"field": "r", "type": "quantitative", "axis": null}}},
    {"mark": {"type": "text", "text": "▼", "align": "center", "baseline": "middle", "font": "DejaVu Sans", "fontSize": 7, "fill": "#333333", "yOffset": 5},
     "encoding": {"x": {"datum": 269.5, "type": "quantitative", "axis": null}, "y": {"field": "r", "type": "quantitative", "axis": null}}},
    {"mark": {"type": "text", "align": "left", "baseline": "middle", "font": "Liberation Sans", "fontSize": 14, "fill": "#4b3b3b"},
     "encoding": {"x": {"datum": 215, "type": "quantitative", "axis": null}, "y": {"field": "r", "type": "quantitative", "axis": null}, "text": {"field": "f"}}},
    {"mark": {"type": "text", "text": "to", "align": "left", "baseline": "middle", "font": "Liberation Sans", "fontSize": 14, "fill": "#3a3a3a"},
     "encoding": {"x": {"datum": 296, "type": "quantitative", "axis": null}, "y": {"field": "r", "type": "quantitative", "axis": null}}},
    {"mark": {"type": "rect", "fill": "#ffffff", "stroke": "#b9b9b9", "strokeWidth": 1, "yOffset": -13, "y2Offset": 13},
     "encoding": {"x": {"datum": 320, "type": "quantitative", "axis": null}, "x2": {"datum": 394}, "y": {"field": "r", "type": "quantitative", "axis": null}, "y2": {"field": "r"}}},
    {"mark": {"type": "rect", "fill": "#e4e4e4", "stroke": "#b9b9b9", "strokeWidth": 1, "yOffset": -13, "y2Offset": 13},
     "encoding": {"x": {"datum": 373, "type": "quantitative", "axis": null}, "x2": {"datum": 394}, "y": {"field": "r", "type": "quantitative", "axis": null}, "y2": {"field": "r"}}},
    {"mark": {"type": "text", "text": "▲", "align": "center", "baseline": "middle", "font": "DejaVu Sans", "fontSize": 7, "fill": "#333333", "yOffset": -5},
     "encoding": {"x": {"datum": 383.5, "type": "quantitative", "axis": null}, "y": {"field": "r", "type": "quantitative", "axis": null}}},
    {"mark": {"type": "text", "text": "▼", "align": "center", "baseline": "middle", "font": "DejaVu Sans", "fontSize": 7, "fill": "#333333", "yOffset": 5},
     "encoding": {"x": {"datum": 383.5, "type": "quantitative", "axis": null}, "y": {"field": "r", "type": "quantitative", "axis": null}}},
    {"mark": {"type": "text", "align": "left", "baseline": "middle", "font": "Liberation Sans", "fontSize": 14, "fill": "#4b3b3b"},
     "encoding": {"x": {"datum": 324, "type": "quantitative", "axis": null}, "y": {"field": "r", "type": "quantitative", "axis": null}, "text": {"field": "t"}}},
    {"mark": {"type": "text", "text": "Abs. limit", "align": "left", "baseline": "middle", "font": "Liberation Sans", "fontSize": 14, "fill": "#3a3a3a"},
     "encoding": {"x": {"datum": 408, "type": "quantitative", "axis": null}, "y": {"field": "r", "type": "quantitative", "axis": null}}},
    {"mark": {"type": "rect", "fill": "#ffffff", "stroke": "#b9b9b9", "strokeWidth": 1, "yOffset": -13, "y2Offset": 13},
     "encoding": {"x": {"datum": 475, "type": "quantitative", "axis": null}, "x2": {"datum": 552}, "y": {"field": "r", "type": "quantitative", "axis": null}, "y2": {"field": "r"}}},
    {"mark": {"type": "rect", "fill": "#e4e4e4", "stroke": "#b9b9b9", "strokeWidth": 1, "yOffset": -13, "y2Offset": 13},
     "encoding": {"x": {"datum": 531, "type": "quantitative", "axis": null}, "x2": {"datum": 552}, "y": {"field": "r", "type": "quantitative", "axis": null}, "y2": {"field": "r"}}},
    {"mark": {"type": "text", "text": "▲", "align": "center", "baseline": "middle", "font": "DejaVu Sans", "fontSize": 7, "fill": "#333333", "yOffset": -5},
     "encoding": {"x": {"datum": 541.5, "type": "quantitative", "axis": null}, "y": {"field": "r", "type": "quantitative", "axis": null}}},
    {"mark": {"type": "text", "text": "▼", "align": "center", "baseline": "middle", "font": "DejaVu Sans", "fontSize": 7, "fill": "#333333", "yOffset": 5},
     "encoding": {"x": {"datum": 541.5, "type": "quantitative", "axis": null}, "y": {"field": "r", "type": "quantitative", "axis": null}}},
    {"mark": {"type": "text", "align": "left", "baseline": "middle", "font": "Liberation Sans", "fontSize": 14, "fill": "#4b3b3b"},
     "encoding": {"x": {"datum": 479, "type": "quantitative", "axis": null}, "y": {"field": "r", "type": "quantitative", "axis": null}, "text": {"field": "lim"}}},
    {"mark": {"type": "point", "shape": "circle", "size": 230, "filled": true, "fill": "#ffffff", "stroke": "#555555", "strokeWidth": 1.2},
     "encoding": {"x": {"datum": 566, "type": "quantitative", "axis": null}, "y": {"field": "r", "type": "quantitative", "axis": null}}},
    {"transform": [{"filter": "datum.sel === true"}], "mark": {"type": "point", "shape": "circle", "size": 70, "filled": true, "fill": "#111111", "strokeWidth": 0},
     "encoding": {"x": {"datum": 566, "type": "quantitative", "axis": null}, "y": {"field": "r", "type": "quantitative", "axis": null}}}
   ]}
 ],
 "resolve": {"scale": {"x": "independent", "y": "independent"}, "axis": {"x": "independent", "y": "independent"}}},
{"title": {"text": "(d) CHF3", "orient": "bottom"}, "width": 1318, "height": 631,
 "layer": [
  {"layer": [
   {"data": {"name": "CHF3"}, "mark": {"type": "line", "stroke": "#4d4d4d", "strokeWidth": 1.6},
    "encoding": {
     "x": {"field": "wn", "type": "quantitative", "scale": {"domain": [595, 4240], "reverse": true, "nice": false, "zero": false},
       "axis": {"title": "Wavenumber(cm⁻¹)", "values": [600,700,800,900,1000,1100,1200,1300,1400,1500,1600,1700,1800,1900,2000,2100,2200,2300,2400,2500,2600,2700,2800,2900,3000,3100,3200,3300,3400,3500,3600,3700,3800,3900,4000,4100,4200], "format": "d", "labelExpr": "datum.value % 500 === 0 ? datum.label : ''", "labelOverlap": false, "tickSize": {"condition": {"test": "datum.value % 500 === 0", "value": 8}, "value": 5}}},
     "y": {"field": "abs", "type": "quantitative", "scale": {"domain": [-0.094, 2.5], "nice": false, "zero": false},
       "axis": {"title": "Absorbance", "values": [0, 0.5, 1, 1.5, 2, 2.5], "format": ".1f", "tickSize": 6}}}},
   {"data": {"name": "CHF3"}, "mark": {"type": "line", "strokeOpacity": 0},
    "encoding": {
     "x": {"field": "wn", "type": "quantitative", "axis": {"orient": "top", "title": null, "labels": false, "values": [600,700,800,900,1000,1100,1200,1300,1400,1500,1600,1700,1800,1900,2000,2100,2200,2300,2400,2500,2600,2700,2800,2900,3000,3100,3200,3300,3400,3500,3600,3700,3800,3900,4000,4100,4200], "tickSize": {"condition": {"test": "datum.value % 500 === 0", "value": 7}, "value": 4}}},
     "y": {"field": "abs", "type": "quantitative", "axis": {"orient": "right", "title": null, "labels": false, "values": [0, 0.5, 1, 1.5, 2, 2.5], "tickSize": 5}}}}
  ], "resolve": {"axis": {"x": "independent", "y": "independent"}}},
  {"data": {"name": "ui"}, "transform": [{"filter": "datum.p === 'd'"}],
   "layer": [
    {"transform": [{"filter": "datum.r === 1"}], "mark": {"type": "rect", "fill": "#ececec"},
     "encoding": {"x": {"datum": 0, "type": "quantitative", "scale": {"domain": [-39, 1279], "nice": false, "zero": false}, "axis": null}, "x2": {"datum": 401},
      "y": {"datum": 0.5, "type": "quantitative", "scale": {"domain": [-0.327, 16.5], "reverse": true, "nice": false, "zero": false}, "axis": null}, "y2": {"datum": 3.6}}},
    {"mark": {"type": "text", "align": "left", "baseline": "middle", "font": "Liberation Sans", "fontSize": 14, "fill": "#4b3b3b"},
     "encoding": {"x": {"datum": 9, "type": "quantitative", "axis": null}, "y": {"field": "r", "type": "quantitative", "axis": null}, "text": {"field": "lab"}}},
    {"mark": {"type": "rect", "fill": "#ffffff", "stroke": "#7b7b7b", "strokeWidth": 1, "yOffset": -9, "y2Offset": 9},
     "encoding": {"x": {"datum": 144, "type": "quantitative", "axis": null}, "x2": {"datum": 161}, "y": {"field": "r", "type": "quantitative", "axis": null}, "y2": {"field": "r"}}},
    {"mark": {"type": "text", "text": "✓", "align": "center", "baseline": "middle", "font": "DejaVu Sans", "fontSize": 13, "fill": "#555555"},
     "encoding": {"x": {"datum": 152.5, "type": "quantitative", "axis": null}, "y": {"field": "r", "type": "quantitative", "axis": null}}},
    {"mark": {"type": "text", "text": "From", "align": "left", "baseline": "middle", "font": "Liberation Sans", "fontSize": 14, "fill": "#3a3a3a"},
     "encoding": {"x": {"datum": 172, "type": "quantitative", "axis": null}, "y": {"field": "r", "type": "quantitative", "axis": null}}},
    {"mark": {"type": "rect", "fill": "#ffffff", "stroke": "#b9b9b9", "strokeWidth": 1, "yOffset": -13, "y2Offset": 13},
     "encoding": {"x": {"datum": 211, "type": "quantitative", "axis": null}, "x2": {"datum": 280}, "y": {"field": "r", "type": "quantitative", "axis": null}, "y2": {"field": "r"}}},
    {"mark": {"type": "rect", "fill": "#e4e4e4", "stroke": "#b9b9b9", "strokeWidth": 1, "yOffset": -13, "y2Offset": 13},
     "encoding": {"x": {"datum": 259, "type": "quantitative", "axis": null}, "x2": {"datum": 280}, "y": {"field": "r", "type": "quantitative", "axis": null}, "y2": {"field": "r"}}},
    {"mark": {"type": "text", "text": "▲", "align": "center", "baseline": "middle", "font": "DejaVu Sans", "fontSize": 7, "fill": "#333333", "yOffset": -5},
     "encoding": {"x": {"datum": 269.5, "type": "quantitative", "axis": null}, "y": {"field": "r", "type": "quantitative", "axis": null}}},
    {"mark": {"type": "text", "text": "▼", "align": "center", "baseline": "middle", "font": "DejaVu Sans", "fontSize": 7, "fill": "#333333", "yOffset": 5},
     "encoding": {"x": {"datum": 269.5, "type": "quantitative", "axis": null}, "y": {"field": "r", "type": "quantitative", "axis": null}}},
    {"mark": {"type": "text", "align": "left", "baseline": "middle", "font": "Liberation Sans", "fontSize": 14, "fill": "#4b3b3b"},
     "encoding": {"x": {"datum": 215, "type": "quantitative", "axis": null}, "y": {"field": "r", "type": "quantitative", "axis": null}, "text": {"field": "f"}}},
    {"mark": {"type": "text", "text": "to", "align": "left", "baseline": "middle", "font": "Liberation Sans", "fontSize": 14, "fill": "#3a3a3a"},
     "encoding": {"x": {"datum": 296, "type": "quantitative", "axis": null}, "y": {"field": "r", "type": "quantitative", "axis": null}}},
    {"mark": {"type": "rect", "fill": "#ffffff", "stroke": "#b9b9b9", "strokeWidth": 1, "yOffset": -13, "y2Offset": 13},
     "encoding": {"x": {"datum": 320, "type": "quantitative", "axis": null}, "x2": {"datum": 394}, "y": {"field": "r", "type": "quantitative", "axis": null}, "y2": {"field": "r"}}},
    {"mark": {"type": "rect", "fill": "#e4e4e4", "stroke": "#b9b9b9", "strokeWidth": 1, "yOffset": -13, "y2Offset": 13},
     "encoding": {"x": {"datum": 373, "type": "quantitative", "axis": null}, "x2": {"datum": 394}, "y": {"field": "r", "type": "quantitative", "axis": null}, "y2": {"field": "r"}}},
    {"mark": {"type": "text", "text": "▲", "align": "center", "baseline": "middle", "font": "DejaVu Sans", "fontSize": 7, "fill": "#333333", "yOffset": -5},
     "encoding": {"x": {"datum": 383.5, "type": "quantitative", "axis": null}, "y": {"field": "r", "type": "quantitative", "axis": null}}},
    {"mark": {"type": "text", "text": "▼", "align": "center", "baseline": "middle", "font": "DejaVu Sans", "fontSize": 7, "fill": "#333333", "yOffset": 5},
     "encoding": {"x": {"datum": 383.5, "type": "quantitative", "axis": null}, "y": {"field": "r", "type": "quantitative", "axis": null}}},
    {"mark": {"type": "text", "align": "left", "baseline": "middle", "font": "Liberation Sans", "fontSize": 14, "fill": "#4b3b3b"},
     "encoding": {"x": {"datum": 324, "type": "quantitative", "axis": null}, "y": {"field": "r", "type": "quantitative", "axis": null}, "text": {"field": "t"}}}
   ]}
 ],
 "resolve": {"scale": {"x": "independent", "y": "independent"}, "axis": {"x": "independent", "y": "independent"}}}
], "spacing": 240},
{"hconcat": [
{"title": {"text": "(e) CF4", "orient": "bottom", "offset": 56}, "width": 1325, "height": 622,
 "layer": [
  {"layer": [
   {"data": {"name": "CF4"}, "mark": {"type": "line", "stroke": "#4d4d4d", "strokeWidth": 1.6},
    "encoding": {
     "x": {"field": "wn", "type": "quantitative", "scale": {"domain": [595, 4240], "reverse": true, "nice": false, "zero": false},
       "axis": {"title": "Wavenumber(cm⁻¹)", "values": [600,700,800,900,1000,1100,1200,1300,1400,1500,1600,1700,1800,1900,2000,2100,2200,2300,2400,2500,2600,2700,2800,2900,3000,3100,3200,3300,3400,3500,3600,3700,3800,3900,4000,4100,4200], "format": "d", "labelExpr": "datum.value % 500 === 0 ? datum.label : ''", "labelOverlap": false, "tickSize": {"condition": {"test": "datum.value % 500 === 0", "value": 8}, "value": 5}}},
     "y": {"field": "abs", "type": "quantitative", "scale": {"domain": [-0.092, 2.5], "nice": false, "zero": false},
       "axis": {"title": "Absorbance", "values": [0, 0.5, 1, 1.5, 2, 2.5], "format": ".1f", "tickSize": 6}}}},
   {"data": {"name": "CF4"}, "mark": {"type": "line", "strokeOpacity": 0},
    "encoding": {
     "x": {"field": "wn", "type": "quantitative", "axis": {"orient": "top", "title": null, "labels": false, "values": [600,700,800,900,1000,1100,1200,1300,1400,1500,1600,1700,1800,1900,2000,2100,2200,2300,2400,2500,2600,2700,2800,2900,3000,3100,3200,3300,3400,3500,3600,3700,3800,3900,4000,4100,4200], "tickSize": {"condition": {"test": "datum.value % 500 === 0", "value": 7}, "value": 4}}},
     "y": {"field": "abs", "type": "quantitative", "axis": {"orient": "right", "title": null, "labels": false, "values": [0, 0.5, 1, 1.5, 2, 2.5], "tickSize": 5}}}}
  ], "resolve": {"axis": {"x": "independent", "y": "independent"}}},
  {"data": {"name": "ui"}, "transform": [{"filter": "datum.p === 'e'"}],
   "layer": [
    {"transform": [{"filter": "datum.r === 1"}], "mark": {"type": "rect", "fill": "#ececec"},
     "encoding": {"x": {"datum": 0, "type": "quantitative", "scale": {"domain": [-24.5, 1300.5], "nice": false, "zero": false}, "axis": null}, "x2": {"datum": 662},
      "y": {"datum": 0.5, "type": "quantitative", "scale": {"domain": [-0.327, 16.26], "reverse": true, "nice": false, "zero": false}, "axis": null}, "y2": {"datum": 2.6}}},
    {"mark": {"type": "text", "align": "left", "baseline": "middle", "font": "Liberation Sans", "fontSize": 14, "fill": "#4b3b3b"},
     "encoding": {"x": {"datum": 9, "type": "quantitative", "axis": null}, "y": {"field": "r", "type": "quantitative", "axis": null}, "text": {"field": "lab"}}},
    {"mark": {"type": "rect", "fill": "#ffffff", "stroke": "#7b7b7b", "strokeWidth": 1, "yOffset": -9, "y2Offset": 9},
     "encoding": {"x": {"datum": 144, "type": "quantitative", "axis": null}, "x2": {"datum": 161}, "y": {"field": "r", "type": "quantitative", "axis": null}, "y2": {"field": "r"}}},
    {"mark": {"type": "text", "text": "✓", "align": "center", "baseline": "middle", "font": "DejaVu Sans", "fontSize": 13, "fill": "#555555"},
     "encoding": {"x": {"datum": 152.5, "type": "quantitative", "axis": null}, "y": {"field": "r", "type": "quantitative", "axis": null}}},
    {"mark": {"type": "text", "text": "From", "align": "left", "baseline": "middle", "font": "Liberation Sans", "fontSize": 14, "fill": "#3a3a3a"},
     "encoding": {"x": {"datum": 172, "type": "quantitative", "axis": null}, "y": {"field": "r", "type": "quantitative", "axis": null}}},
    {"mark": {"type": "rect", "fill": "#ffffff", "stroke": "#b9b9b9", "strokeWidth": 1, "yOffset": -13, "y2Offset": 13},
     "encoding": {"x": {"datum": 211, "type": "quantitative", "axis": null}, "x2": {"datum": 280}, "y": {"field": "r", "type": "quantitative", "axis": null}, "y2": {"field": "r"}}},
    {"mark": {"type": "rect", "fill": "#e4e4e4", "stroke": "#b9b9b9", "strokeWidth": 1, "yOffset": -13, "y2Offset": 13},
     "encoding": {"x": {"datum": 259, "type": "quantitative", "axis": null}, "x2": {"datum": 280}, "y": {"field": "r", "type": "quantitative", "axis": null}, "y2": {"field": "r"}}},
    {"mark": {"type": "text", "text": "▲", "align": "center", "baseline": "middle", "font": "DejaVu Sans", "fontSize": 7, "fill": "#333333", "yOffset": -5},
     "encoding": {"x": {"datum": 269.5, "type": "quantitative", "axis": null}, "y": {"field": "r", "type": "quantitative", "axis": null}}},
    {"mark": {"type": "text", "text": "▼", "align": "center", "baseline": "middle", "font": "DejaVu Sans", "fontSize": 7, "fill": "#333333", "yOffset": 5},
     "encoding": {"x": {"datum": 269.5, "type": "quantitative", "axis": null}, "y": {"field": "r", "type": "quantitative", "axis": null}}},
    {"mark": {"type": "text", "align": "left", "baseline": "middle", "font": "Liberation Sans", "fontSize": 14, "fill": "#4b3b3b"},
     "encoding": {"x": {"datum": 215, "type": "quantitative", "axis": null}, "y": {"field": "r", "type": "quantitative", "axis": null}, "text": {"field": "f"}}},
    {"mark": {"type": "text", "text": "to", "align": "left", "baseline": "middle", "font": "Liberation Sans", "fontSize": 14, "fill": "#3a3a3a"},
     "encoding": {"x": {"datum": 296, "type": "quantitative", "axis": null}, "y": {"field": "r", "type": "quantitative", "axis": null}}},
    {"mark": {"type": "rect", "fill": "#ffffff", "stroke": "#b9b9b9", "strokeWidth": 1, "yOffset": -13, "y2Offset": 13},
     "encoding": {"x": {"datum": 320, "type": "quantitative", "axis": null}, "x2": {"datum": 394}, "y": {"field": "r", "type": "quantitative", "axis": null}, "y2": {"field": "r"}}},
    {"mark": {"type": "rect", "fill": "#e4e4e4", "stroke": "#b9b9b9", "strokeWidth": 1, "yOffset": -13, "y2Offset": 13},
     "encoding": {"x": {"datum": 373, "type": "quantitative", "axis": null}, "x2": {"datum": 394}, "y": {"field": "r", "type": "quantitative", "axis": null}, "y2": {"field": "r"}}},
    {"mark": {"type": "text", "text": "▲", "align": "center", "baseline": "middle", "font": "DejaVu Sans", "fontSize": 7, "fill": "#333333", "yOffset": -5},
     "encoding": {"x": {"datum": 383.5, "type": "quantitative", "axis": null}, "y": {"field": "r", "type": "quantitative", "axis": null}}},
    {"mark": {"type": "text", "text": "▼", "align": "center", "baseline": "middle", "font": "DejaVu Sans", "fontSize": 7, "fill": "#333333", "yOffset": 5},
     "encoding": {"x": {"datum": 383.5, "type": "quantitative", "axis": null}, "y": {"field": "r", "type": "quantitative", "axis": null}}},
    {"mark": {"type": "text", "align": "left", "baseline": "middle", "font": "Liberation Sans", "fontSize": 14, "fill": "#4b3b3b"},
     "encoding": {"x": {"datum": 324, "type": "quantitative", "axis": null}, "y": {"field": "r", "type": "quantitative", "axis": null}, "text": {"field": "t"}}},
    {"mark": {"type": "text", "text": "Abs. limit", "align": "left", "baseline": "middle", "font": "Liberation Sans", "fontSize": 14, "fill": "#3a3a3a"},
     "encoding": {"x": {"datum": 408, "type": "quantitative", "axis": null}, "y": {"field": "r", "type": "quantitative", "axis": null}}},
    {"mark": {"type": "rect", "fill": "#ffffff", "stroke": "#b9b9b9", "strokeWidth": 1, "yOffset": -13, "y2Offset": 13},
     "encoding": {"x": {"datum": 475, "type": "quantitative", "axis": null}, "x2": {"datum": 552}, "y": {"field": "r", "type": "quantitative", "axis": null}, "y2": {"field": "r"}}},
    {"mark": {"type": "rect", "fill": "#e4e4e4", "stroke": "#b9b9b9", "strokeWidth": 1, "yOffset": -13, "y2Offset": 13},
     "encoding": {"x": {"datum": 531, "type": "quantitative", "axis": null}, "x2": {"datum": 552}, "y": {"field": "r", "type": "quantitative", "axis": null}, "y2": {"field": "r"}}},
    {"mark": {"type": "text", "text": "▲", "align": "center", "baseline": "middle", "font": "DejaVu Sans", "fontSize": 7, "fill": "#333333", "yOffset": -5},
     "encoding": {"x": {"datum": 541.5, "type": "quantitative", "axis": null}, "y": {"field": "r", "type": "quantitative", "axis": null}}},
    {"mark": {"type": "text", "text": "▼", "align": "center", "baseline": "middle", "font": "DejaVu Sans", "fontSize": 7, "fill": "#333333", "yOffset": 5},
     "encoding": {"x": {"datum": 541.5, "type": "quantitative", "axis": null}, "y": {"field": "r", "type": "quantitative", "axis": null}}},
    {"mark": {"type": "text", "align": "left", "baseline": "middle", "font": "Liberation Sans", "fontSize": 14, "fill": "#4b3b3b"},
     "encoding": {"x": {"datum": 479, "type": "quantitative", "axis": null}, "y": {"field": "r", "type": "quantitative", "axis": null}, "text": {"field": "lim"}}},
    {"mark": {"type": "point", "shape": "circle", "size": 230, "filled": true, "fill": "#ffffff", "stroke": "#555555", "strokeWidth": 1.2},
     "encoding": {"x": {"datum": 566, "type": "quantitative", "axis": null}, "y": {"field": "r", "type": "quantitative", "axis": null}}},
    {"transform": [{"filter": "datum.sel === true"}], "mark": {"type": "point", "shape": "circle", "size": 70, "filled": true, "fill": "#111111", "strokeWidth": 0},
     "encoding": {"x": {"datum": 566, "type": "quantitative", "axis": null}, "y": {"field": "r", "type": "quantitative", "axis": null}}},
    {"mark": {"type": "text", "align": "left", "baseline": "middle", "font": "Liberation Sans", "fontSize": 14, "fill": "#3a3a3a"},
     "encoding": {"x": {"datum": 578, "type": "quantitative", "axis": null}, "y": {"field": "r", "type": "quantitative", "axis": null}, "text": {"field": "sa"}}}
   ]}
 ],
 "resolve": {"scale": {"x": "independent", "y": "independent"}, "axis": {"x": "independent", "y": "independent"}}},
{"title": {"text": "(f) NF3", "orient": "bottom", "offset": 56}, "width": 1318, "height": 622,
 "layer": [
  {"layer": [
   {"data": {"name": "NF3"}, "mark": {"type": "line", "stroke": "#4d4d4d", "strokeWidth": 1.6},
    "encoding": {
     "x": {"field": "wn", "type": "quantitative", "scale": {"domain": [595, 4240], "reverse": true, "nice": false, "zero": false},
       "axis": {"title": "Wavenumber(cm⁻¹)", "values": [600,700,800,900,1000,1100,1200,1300,1400,1500,1600,1700,1800,1900,2000,2100,2200,2300,2400,2500,2600,2700,2800,2900,3000,3100,3200,3300,3400,3500,3600,3700,3800,3900,4000,4100,4200], "format": "d", "labelExpr": "datum.value % 500 === 0 ? datum.label : ''", "labelOverlap": false, "tickSize": {"condition": {"test": "datum.value % 500 === 0", "value": 8}, "value": 5}}},
     "y": {"field": "abs", "type": "quantitative", "scale": {"domain": [-0.094, 2.0], "nice": false, "zero": false},
       "axis": {"title": "Absorbance", "values": [0, 0.4, 0.8, 1.2, 1.6, 2.0], "format": ".1f", "tickSize": 6}}}},
   {"data": {"name": "NF3"}, "mark": {"type": "line", "strokeOpacity": 0},
    "encoding": {
     "x": {"field": "wn", "type": "quantitative", "axis": {"orient": "top", "title": null, "labels": false, "values": [600,700,800,900,1000,1100,1200,1300,1400,1500,1600,1700,1800,1900,2000,2100,2200,2300,2400,2500,2600,2700,2800,2900,3000,3100,3200,3300,3400,3500,3600,3700,3800,3900,4000,4100,4200], "tickSize": {"condition": {"test": "datum.value % 500 === 0", "value": 7}, "value": 4}}},
     "y": {"field": "abs", "type": "quantitative", "axis": {"orient": "right", "title": null, "labels": false, "values": [0, 0.4, 0.8, 1.2, 1.6, 2.0], "tickSize": 5}}}}
  ], "resolve": {"axis": {"x": "independent", "y": "independent"}}},
  {"data": {"name": "ui"}, "transform": [{"filter": "datum.p === 'f'"}],
   "layer": [
    {"transform": [{"filter": "datum.r === 1"}], "mark": {"type": "rect", "fill": "#ececec"},
     "encoding": {"x": {"datum": 0, "type": "quantitative", "scale": {"domain": [-24, 1294], "nice": false, "zero": false}, "axis": null}, "x2": {"datum": 406},
      "y": {"datum": 0.5, "type": "quantitative", "scale": {"domain": [-0.38, 16.207], "reverse": true, "nice": false, "zero": false}, "axis": null}, "y2": {"datum": 2.55}}},
    {"mark": {"type": "text", "align": "left", "baseline": "middle", "font": "Liberation Sans", "fontSize": 14, "fill": "#4b3b3b"},
     "encoding": {"x": {"datum": 9, "type": "quantitative", "axis": null}, "y": {"field": "r", "type": "quantitative", "axis": null}, "text": {"field": "lab"}}},
    {"mark": {"type": "rect", "fill": "#ffffff", "stroke": "#7b7b7b", "strokeWidth": 1, "yOffset": -9, "y2Offset": 9},
     "encoding": {"x": {"datum": 144, "type": "quantitative", "axis": null}, "x2": {"datum": 161}, "y": {"field": "r", "type": "quantitative", "axis": null}, "y2": {"field": "r"}}},
    {"mark": {"type": "text", "text": "✓", "align": "center", "baseline": "middle", "font": "DejaVu Sans", "fontSize": 13, "fill": "#555555"},
     "encoding": {"x": {"datum": 152.5, "type": "quantitative", "axis": null}, "y": {"field": "r", "type": "quantitative", "axis": null}}},
    {"mark": {"type": "text", "text": "From", "align": "left", "baseline": "middle", "font": "Liberation Sans", "fontSize": 14, "fill": "#3a3a3a"},
     "encoding": {"x": {"datum": 172, "type": "quantitative", "axis": null}, "y": {"field": "r", "type": "quantitative", "axis": null}}},
    {"mark": {"type": "rect", "fill": "#ffffff", "stroke": "#b9b9b9", "strokeWidth": 1, "yOffset": -13, "y2Offset": 13},
     "encoding": {"x": {"datum": 211, "type": "quantitative", "axis": null}, "x2": {"datum": 280}, "y": {"field": "r", "type": "quantitative", "axis": null}, "y2": {"field": "r"}}},
    {"mark": {"type": "rect", "fill": "#e4e4e4", "stroke": "#b9b9b9", "strokeWidth": 1, "yOffset": -13, "y2Offset": 13},
     "encoding": {"x": {"datum": 259, "type": "quantitative", "axis": null}, "x2": {"datum": 280}, "y": {"field": "r", "type": "quantitative", "axis": null}, "y2": {"field": "r"}}},
    {"mark": {"type": "text", "text": "▲", "align": "center", "baseline": "middle", "font": "DejaVu Sans", "fontSize": 7, "fill": "#333333", "yOffset": -5},
     "encoding": {"x": {"datum": 269.5, "type": "quantitative", "axis": null}, "y": {"field": "r", "type": "quantitative", "axis": null}}},
    {"mark": {"type": "text", "text": "▼", "align": "center", "baseline": "middle", "font": "DejaVu Sans", "fontSize": 7, "fill": "#333333", "yOffset": 5},
     "encoding": {"x": {"datum": 269.5, "type": "quantitative", "axis": null}, "y": {"field": "r", "type": "quantitative", "axis": null}}},
    {"mark": {"type": "text", "align": "left", "baseline": "middle", "font": "Liberation Sans", "fontSize": 14, "fill": "#4b3b3b"},
     "encoding": {"x": {"datum": 215, "type": "quantitative", "axis": null}, "y": {"field": "r", "type": "quantitative", "axis": null}, "text": {"field": "f"}}},
    {"mark": {"type": "text", "text": "to", "align": "left", "baseline": "middle", "font": "Liberation Sans", "fontSize": 14, "fill": "#3a3a3a"},
     "encoding": {"x": {"datum": 296, "type": "quantitative", "axis": null}, "y": {"field": "r", "type": "quantitative", "axis": null}}},
    {"mark": {"type": "rect", "fill": "#ffffff", "stroke": "#b9b9b9", "strokeWidth": 1, "yOffset": -13, "y2Offset": 13},
     "encoding": {"x": {"datum": 320, "type": "quantitative", "axis": null}, "x2": {"datum": 394}, "y": {"field": "r", "type": "quantitative", "axis": null}, "y2": {"field": "r"}}},
    {"mark": {"type": "rect", "fill": "#e4e4e4", "stroke": "#b9b9b9", "strokeWidth": 1, "yOffset": -13, "y2Offset": 13},
     "encoding": {"x": {"datum": 373, "type": "quantitative", "axis": null}, "x2": {"datum": 394}, "y": {"field": "r", "type": "quantitative", "axis": null}, "y2": {"field": "r"}}},
    {"mark": {"type": "text", "text": "▲", "align": "center", "baseline": "middle", "font": "DejaVu Sans", "fontSize": 7, "fill": "#333333", "yOffset": -5},
     "encoding": {"x": {"datum": 383.5, "type": "quantitative", "axis": null}, "y": {"field": "r", "type": "quantitative", "axis": null}}},
    {"mark": {"type": "text", "text": "▼", "align": "center", "baseline": "middle", "font": "DejaVu Sans", "fontSize": 7, "fill": "#333333", "yOffset": 5},
     "encoding": {"x": {"datum": 383.5, "type": "quantitative", "axis": null}, "y": {"field": "r", "type": "quantitative", "axis": null}}},
    {"mark": {"type": "text", "align": "left", "baseline": "middle", "font": "Liberation Sans", "fontSize": 14, "fill": "#4b3b3b"},
     "encoding": {"x": {"datum": 324, "type": "quantitative", "axis": null}, "y": {"field": "r", "type": "quantitative", "axis": null}, "text": {"field": "t"}}}
   ]}
 ],
 "resolve": {"scale": {"x": "independent", "y": "independent"}, "axis": {"x": "independent", "y": "independent"}}}
], "spacing": 240},
{"title": {"text": "(g) SF6", "orient": "bottom"}, "width": 1321, "height": 631,
 "layer": [
  {"layer": [
   {"data": {"name": "SF6"}, "mark": {"type": "line", "stroke": "#4d4d4d", "strokeWidth": 1.6},
    "encoding": {
     "x": {"field": "wn", "type": "quantitative", "scale": {"domain": [595, 4240], "reverse": true, "nice": false, "zero": false},
       "axis": {"title": "Wavenumber(cm⁻¹)", "values": [600,700,800,900,1000,1100,1200,1300,1400,1500,1600,1700,1800,1900,2000,2100,2200,2300,2400,2500,2600,2700,2800,2900,3000,3100,3200,3300,3400,3500,3600,3700,3800,3900,4000,4100,4200], "format": "d", "labelExpr": "datum.value % 500 === 0 ? datum.label : ''", "labelOverlap": false, "tickSize": {"condition": {"test": "datum.value % 500 === 0", "value": 8}, "value": 5}}},
     "y": {"field": "abs", "type": "quantitative", "scale": {"domain": [-0.099, 1.5], "nice": false, "zero": false},
       "axis": {"title": "Absorbance", "values": [0, 0.3, 0.6, 0.9, 1.2, 1.5], "format": ".1f", "tickSize": 6}}}},
   {"data": {"name": "SF6"}, "mark": {"type": "line", "strokeOpacity": 0},
    "encoding": {
     "x": {"field": "wn", "type": "quantitative", "axis": {"orient": "top", "title": null, "labels": false, "values": [600,700,800,900,1000,1100,1200,1300,1400,1500,1600,1700,1800,1900,2000,2100,2200,2300,2400,2500,2600,2700,2800,2900,3000,3100,3200,3300,3400,3500,3600,3700,3800,3900,4000,4100,4200], "tickSize": {"condition": {"test": "datum.value % 500 === 0", "value": 7}, "value": 4}}},
     "y": {"field": "abs", "type": "quantitative", "axis": {"orient": "right", "title": null, "labels": false, "values": [0, 0.3, 0.6, 0.9, 1.2, 1.5], "tickSize": 5}}}}
  ], "resolve": {"axis": {"x": "independent", "y": "independent"}}},
  {"data": {"name": "ui"}, "transform": [{"filter": "datum.p === 'g'"}],
   "layer": [
    {"mark": {"type": "rect", "fill": "#ececec"},
     "encoding": {"x": {"datum": 0, "type": "quantitative", "scale": {"domain": [-23, 1298], "nice": false, "zero": false}, "axis": null}, "x2": {"datum": 398},
      "y": {"datum": 0.5, "type": "quantitative", "scale": {"domain": [-0.06, 16.767], "reverse": true, "nice": false, "zero": false}, "axis": null}, "y2": {"datum": 1.62}}},
    {"mark": {"type": "text", "align": "left", "baseline": "middle", "font": "Liberation Sans", "fontSize": 14, "fill": "#4b3b3b"},
     "encoding": {"x": {"datum": 9, "type": "quantitative", "axis": null}, "y": {"field": "r", "type": "quantitative", "axis": null}, "text": {"field": "lab"}}},
    {"mark": {"type": "rect", "fill": "#ffffff", "stroke": "#7b7b7b", "strokeWidth": 1, "yOffset": -9, "y2Offset": 9},
     "encoding": {"x": {"datum": 144, "type": "quantitative", "axis": null}, "x2": {"datum": 161}, "y": {"field": "r", "type": "quantitative", "axis": null}, "y2": {"field": "r"}}},
    {"mark": {"type": "text", "text": "✓", "align": "center", "baseline": "middle", "font": "DejaVu Sans", "fontSize": 13, "fill": "#555555"},
     "encoding": {"x": {"datum": 152.5, "type": "quantitative", "axis": null}, "y": {"field": "r", "type": "quantitative", "axis": null}}},
    {"mark": {"type": "text", "text": "From", "align": "left", "baseline": "middle", "font": "Liberation Sans", "fontSize": 14, "fill": "#3a3a3a"},
     "encoding": {"x": {"datum": 172, "type": "quantitative", "axis": null}, "y": {"field": "r", "type": "quantitative", "axis": null}}},
    {"mark": {"type": "rect", "fill": "#ffffff", "stroke": "#b9b9b9", "strokeWidth": 1, "yOffset": -13, "y2Offset": 13},
     "encoding": {"x": {"datum": 211, "type": "quantitative", "axis": null}, "x2": {"datum": 280}, "y": {"field": "r", "type": "quantitative", "axis": null}, "y2": {"field": "r"}}},
    {"mark": {"type": "rect", "fill": "#e4e4e4", "stroke": "#b9b9b9", "strokeWidth": 1, "yOffset": -13, "y2Offset": 13},
     "encoding": {"x": {"datum": 259, "type": "quantitative", "axis": null}, "x2": {"datum": 280}, "y": {"field": "r", "type": "quantitative", "axis": null}, "y2": {"field": "r"}}},
    {"mark": {"type": "text", "text": "▲", "align": "center", "baseline": "middle", "font": "DejaVu Sans", "fontSize": 7, "fill": "#333333", "yOffset": -5},
     "encoding": {"x": {"datum": 269.5, "type": "quantitative", "axis": null}, "y": {"field": "r", "type": "quantitative", "axis": null}}},
    {"mark": {"type": "text", "text": "▼", "align": "center", "baseline": "middle", "font": "DejaVu Sans", "fontSize": 7, "fill": "#333333", "yOffset": 5},
     "encoding": {"x": {"datum": 269.5, "type": "quantitative", "axis": null}, "y": {"field": "r", "type": "quantitative", "axis": null}}},
    {"mark": {"type": "text", "align": "left", "baseline": "middle", "font": "Liberation Sans", "fontSize": 14, "fill": "#4b3b3b"},
     "encoding": {"x": {"datum": 215, "type": "quantitative", "axis": null}, "y": {"field": "r", "type": "quantitative", "axis": null}, "text": {"field": "f"}}},
    {"mark": {"type": "text", "text": "to", "align": "left", "baseline": "middle", "font": "Liberation Sans", "fontSize": 14, "fill": "#3a3a3a"},
     "encoding": {"x": {"datum": 296, "type": "quantitative", "axis": null}, "y": {"field": "r", "type": "quantitative", "axis": null}}},
    {"mark": {"type": "rect", "fill": "#ffffff", "stroke": "#b9b9b9", "strokeWidth": 1, "yOffset": -13, "y2Offset": 13},
     "encoding": {"x": {"datum": 320, "type": "quantitative", "axis": null}, "x2": {"datum": 394}, "y": {"field": "r", "type": "quantitative", "axis": null}, "y2": {"field": "r"}}},
    {"mark": {"type": "rect", "fill": "#e4e4e4", "stroke": "#b9b9b9", "strokeWidth": 1, "yOffset": -13, "y2Offset": 13},
     "encoding": {"x": {"datum": 373, "type": "quantitative", "axis": null}, "x2": {"datum": 394}, "y": {"field": "r", "type": "quantitative", "axis": null}, "y2": {"field": "r"}}},
    {"mark": {"type": "text", "text": "▲", "align": "center", "baseline": "middle", "font": "DejaVu Sans", "fontSize": 7, "fill": "#333333", "yOffset": -5},
     "encoding": {"x": {"datum": 383.5, "type": "quantitative", "axis": null}, "y": {"field": "r", "type": "quantitative", "axis": null}}},
    {"mark": {"type": "text", "text": "▼", "align": "center", "baseline": "middle", "font": "DejaVu Sans", "fontSize": 7, "fill": "#333333", "yOffset": 5},
     "encoding": {"x": {"datum": 383.5, "type": "quantitative", "axis": null}, "y": {"field": "r", "type": "quantitative", "axis": null}}},
    {"mark": {"type": "text", "align": "left", "baseline": "middle", "font": "Liberation Sans", "fontSize": 14, "fill": "#4b3b3b"},
     "encoding": {"x": {"datum": 324, "type": "quantitative", "axis": null}, "y": {"field": "r", "type": "quantitative", "axis": null}, "text": {"field": "t"}}}
   ]}
 ],
 "resolve": {"scale": {"x": "independent", "y": "independent"}, "axis": {"x": "independent", "y": "independent"}}}
],
"spacing": 10,
"center": true,
"config": {
 "view": {"stroke": "#8a8a8a", "strokeWidth": 1.5},
 "axis": {"domain": false, "grid": false, "labelFont": "Liberation Sans", "labelFontSize": 16, "labelColor": "#333333", "tickColor": "#6f6f6f", "tickWidth": 1.2, "titleFont": "DejaVu Sans", "titleFontSize": 15, "titleFontWeight": "bold", "titleColor": "#1a1a1a"},
 "axisX": {"labelPadding": 6, "titlePadding": 12},
 "axisY": {"labelPadding": 3, "titlePadding": 22},
 "title": {"font": "Liberation Serif", "fontSize": 70, "fontWeight": "normal", "color": "#000000", "anchor": "middle", "frame": "group", "offset": 49}
}
}
